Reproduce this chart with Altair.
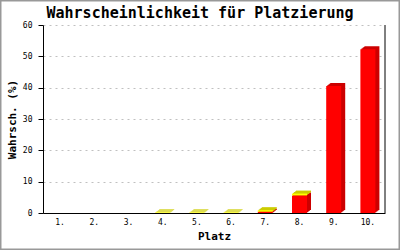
import altair as alt
import pandas as pd

plaetze = ["1.", "2.", "3.", "4.", "5.", "6.", "7.", "8.", "9.", "10."]
rot = [0, 0, 0, 0, 0, 0, 0.4, 5.6, 40.5, 52.3]
gelb = [0, 0, 0, 0.2, 0.2, 0.2, 0.5, 0.6, 0, 0]
y_ticks = [0, 10, 20, 30, 40, 50, 60]
titel = "Wahrscheinlichkeit für Platzierung"

rows = []
for p, r, g in zip(plaetze, rot, gelb):
    rows.append({"platz": p, "serie": "rot", "ord": 0, "wert": r})
    rows.append({"platz": p, "serie": "gelb", "ord": 1, "wert": g})
df = pd.DataFrame(rows)

W, H = 342, 188
PL, PT, PR, PB = 43, 25, 15, 37
MONO = "DejaVu Sans Mono"

xenc = alt.X("platz:N", sort=plaetze, title="Platz",
             scale=alt.Scale(paddingInner=0, paddingOuter=0),
             axis=alt.Axis(labelAngle=0, ticks=False, grid=False,
                           labelPadding=5, titlePadding=4))
yenc = alt.Y("wert:Q", stack="zero", title="Wahrsch. (%)",
             scale=alt.Scale(domain=[0, 60], nice=False),
             axis=alt.Axis(values=y_ticks, tickSize=5, labelPadding=6,
                           titlePadding=5, grid=True, gridDash=[2, 4],
                           gridColor="#c0c0c0"))


def layer(k, colors):
    return alt.Chart(df).mark_bar(size=15, xOffset=k, yOffset=-0.75 * k).encode(
        x=xenc,
        y=yenc,
        color=alt.Color("serie:N", scale=alt.Scale(domain=["rot", "gelb"], range=colors), legend=None),
        order=alt.Order("ord:Q", sort="ascending"),
    )


dark = ["#cc0000", "#cccc00"]
front = ["#ff0000", "#ffff00"]
layers = [layer(k, dark) for k in (4, 3, 2, 1)] + [layer(0, front)]

one = pd.DataFrame({"a": [0]})
right_line = alt.Chart(one).mark_rule(color="black", strokeWidth=1).encode(
    x=alt.value(W), y=alt.value(0), y2=alt.value(H))
border = alt.Chart(one).mark_rect(fill=None, stroke="#999999", strokeWidth=1.5).encode(
    x=alt.value(-PL + 0.75), x2=alt.value(W + PR - 0.75),
    y=alt.value(-PT + 0.75), y2=alt.value(H + PB - 0.75))
title_mark = alt.Chart(one).mark_text(
    font=MONO, fontSize=15, fontWeight="bold", color="black",
    align="center", baseline="alphabetic").encode(
    x=alt.value(200 - PL), y=alt.value(18 - PT), text=alt.value(titel))

chart = alt.layer(*layers, right_line, border, title_mark).resolve_scale(color="independent").properties(
    width=W, height=H,
    padding={"left": PL, "top": PT, "right": PR, "bottom": PB},
    autosize=alt.AutoSizeParams(type="none"),
    background="white",
).configure_view(stroke=None).configure_axis(
    domainColor="black", domainWidth=1, tickColor="black",
    labelFont=MONO, labelFontSize=8, labelColor="black",
    titleFont=MONO, titleFontSize=11, titleFontWeight="bold", titleColor="black",
)

chart.save("out.html", embed_options={"renderer": "svg", "actions": False})
